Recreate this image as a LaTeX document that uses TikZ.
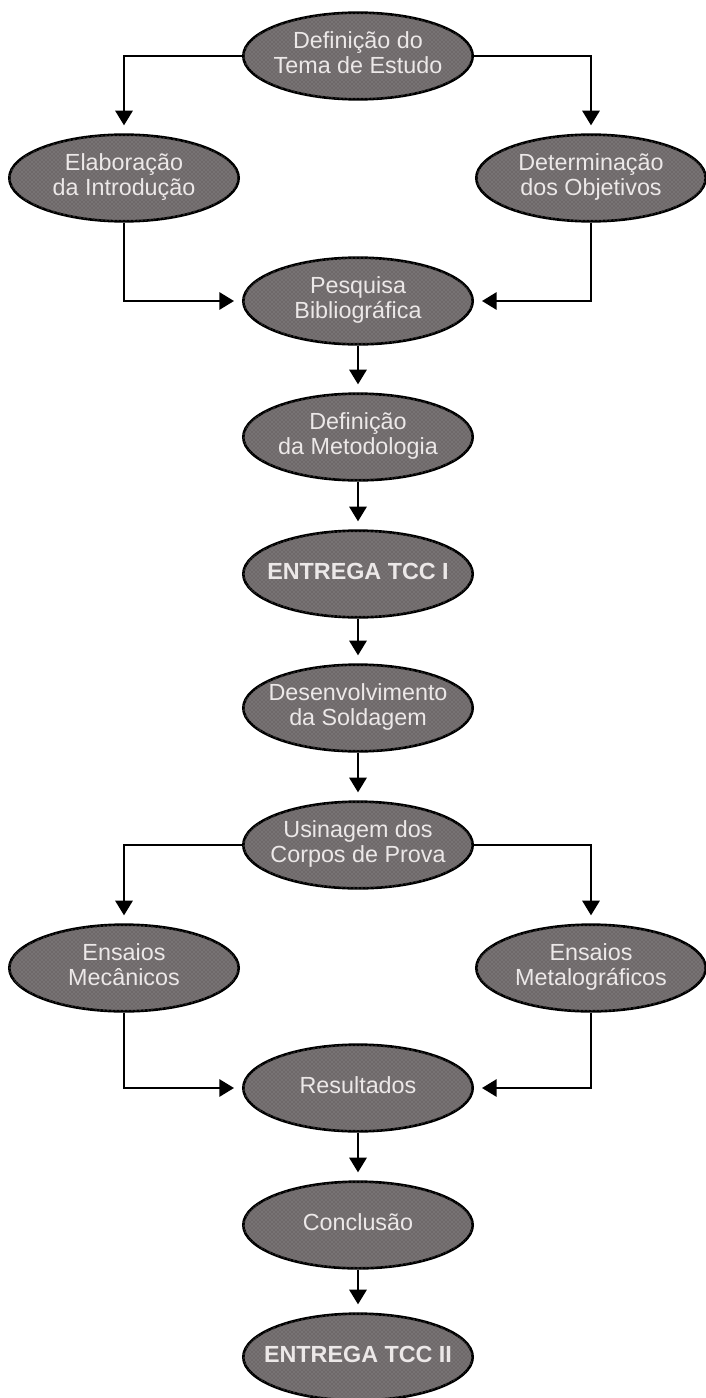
\documentclass[tikz,border=0pt]{standalone}
\usepackage{fontspec}
\setmainfont{Liberation Sans}
\usetikzlibrary{shapes.geometric,arrows.meta,patterns}
\definecolor{ellfill}{HTML}{6E6869}
\definecolor{elltext}{HTML}{ECE8E8}
\newcommand{\ctext}[1]{\makebox[90pt][c]{\begin{tabular}{@{}c@{}}#1\end{tabular}}}
\tikzset{
  stage/.style={ellipse, draw=black, line width=2pt, fill=ellfill,
    minimum width=172pt, minimum height=65pt, inner sep=0pt,
    text=elltext, align=center,
    font=\fontsize{17.5}{19}\selectfont,
    postaction={pattern=crosshatch dots, pattern color=gray!80!white}},
  bstage/.style={stage, font=\fontsize{17.5}{19}\selectfont\bfseries},
  arr/.style={line width=1.5pt, draw=black,
    -{Triangle[length=11pt,width=13pt]}, shorten >=6pt},
}
\begin{document}
\begin{tikzpicture}[x=0.75pt,y=-0.75pt]
\useasboundingbox (0,0) rectangle (706,1398);
\node[stage] (tema) at (358,56) {\ctext{Definição do\\Tema de Estudo}};
\node[stage] (intro) at (124,178) {\ctext{Elaboração\\da Introdução}};
\node[stage] (obj) at (591,178) {\ctext{Determinação\\dos Objetivos}};
\node[stage] (pesq) at (358,301) {\ctext{Pesquisa\\Bibliográfica}};
\node[stage] (met) at (358,437) {\ctext{Definição\\da Metodologia}};
\node[bstage] (tcc1) at (358,574) {\ctext{ENTREGA TCC I}};
\node[stage] (sold) at (358,708) {\ctext{Desenvolvimento\\da Soldagem}};
\node[stage] (usin) at (358,845) {\ctext{Usinagem dos\\Corpos de Prova}};
\node[stage] (mec) at (124,968) {\ctext{Ensaios\\Mecânicos}};
\node[stage] (metal) at (591,968) {\ctext{Ensaios\\Metalográficos}};
\node[stage] (res) at (358,1088) {\ctext{Resultados}};
\node[stage] (conc) at (358,1225) {\ctext{Conclusão}};
\node[bstage] (tcc2) at (358,1357) {\ctext{ENTREGA TCC II}};

\draw[arr] (tema.west) -| (intro.north);
\draw[arr] (tema.east) -| (obj.north);
\draw[arr] (intro.south) |- (pesq.west);
\draw[arr] (obj.south) |- (pesq.east);
\draw[arr] (pesq.south) -- (met.north);
\draw[arr] (met.south) -- (tcc1.north);
\draw[arr] (tcc1.south) -- (sold.north);
\draw[arr] (sold.south) -- (usin.north);
\draw[arr] (usin.west) -| (mec.north);
\draw[arr] (usin.east) -| (metal.north);
\draw[arr] (mec.south) |- (res.west);
\draw[arr] (metal.south) |- (res.east);
\draw[arr] (res.south) -- (conc.north);
\draw[arr] (conc.south) -- (tcc2.north);
\end{tikzpicture}
\end{document}
